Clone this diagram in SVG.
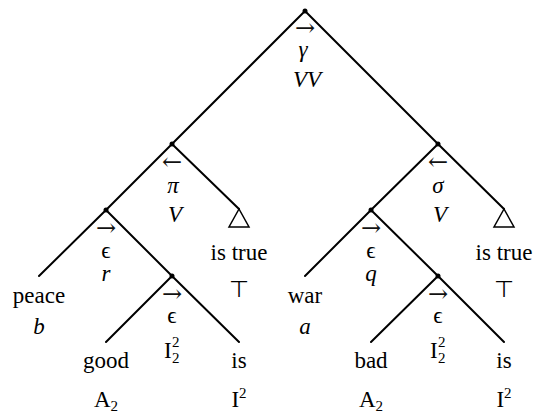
<svg xmlns="http://www.w3.org/2000/svg" width="538" height="416" viewBox="0 0 538 416" font-family="'Liberation Serif', 'Times New Roman', serif" font-size="23">
<style>
text{fill:#000;text-anchor:middle}
.it{font-style:italic}
.ar{font-family:"DejaVu Serif",serif;font-size:24px;fill:#111}
.sc{font-size:15px}
.top{font-size:23px}
.edge{stroke:#000;stroke-width:2;fill:none;stroke-linecap:round}
.dot{fill:#000}
.tri{fill:none;stroke:#000;stroke-width:1.5}
</style>
<rect width="538" height="416" fill="#fff"/>
<g id="connectors">
<path class="edge" d="M305,11L172,144M305,11L438,144M172,144L106,210M172,144L239,209M106,210L39,276M106,210L172,276M172,276L106,342M172,276L239,342M438,144L371,210M438,144L504,209M371,210L305,276M371,210L438,276M438,276L371,342M438,276L504,342"/>
</g>
<g id="root">
<circle class="dot" cx="305" cy="11" r="2.5"/>
<text class="ar" x="305" y="36">→</text>
<text class="it" x="303" y="57">γ</text>
<text class="it" x="307" y="87">VV</text>
</g>
<g id="pi">
<circle class="dot" cx="172" cy="144" r="2.5"/>
<text class="ar" x="172" y="170">←</text>
<text class="it" x="173" y="193">π</text>
<text class="it" x="175" y="222">V</text>
</g>
<g id="sigma">
<circle class="dot" cx="438" cy="144" r="2.5"/>
<text class="ar" x="438" y="170">←</text>
<text class="it" x="438" y="193">σ</text>
<text class="it" x="440" y="222">V</text>
</g>
<g id="eps-r">
<circle class="dot" cx="106" cy="210" r="2.5"/>
<text class="ar" x="106" y="236">→</text>
<text x="106" y="258">ϵ</text>
<text class="it" x="106" y="281">r</text>
</g>
<g id="eps-q">
<circle class="dot" cx="371" cy="210" r="2.5"/>
<text class="ar" x="371" y="236">→</text>
<text x="371" y="258">ϵ</text>
<text class="it" x="371" y="281">q</text>
</g>
<g id="eps-left">
<circle class="dot" cx="172" cy="276" r="2.5"/>
<text class="ar" x="172" y="302">→</text>
<text x="172" y="323">ϵ</text>
<text x="164" y="358" style="text-anchor:start">I</text>
<text class="sc" x="172" y="347" style="text-anchor:start">2</text>
<text class="sc" x="172" y="363" style="text-anchor:start">2</text>
</g>
<g id="eps-right">
<circle class="dot" cx="438" cy="276" r="2.5"/>
<text class="ar" x="438" y="302">→</text>
<text x="438" y="323">ϵ</text>
<text x="430" y="358" style="text-anchor:start">I</text>
<text class="sc" x="438" y="347" style="text-anchor:start">2</text>
<text class="sc" x="438" y="363" style="text-anchor:start">2</text>
</g>
<g id="is-true-left">
<path class="tri" d="M239,209L229,227H249Z"/>
<text x="239" y="260">is true</text>
<text class="top" x="239" y="297">⊤</text>
</g>
<g id="is-true-right">
<path class="tri" d="M504,209L494,227H514Z"/>
<text x="504" y="260">is true</text>
<text class="top" x="504" y="297">⊤</text>
</g>
<g id="peace">
<text x="39" y="303">peace</text>
<text class="it" x="39" y="334">b</text>
</g>
<g id="war">
<text x="305" y="303">war</text>
<text class="it" x="305" y="334">a</text>
</g>
<g id="good">
<text x="106" y="368">good</text>
<text x="106" y="407">A<tspan class="sc" dy="4">2</tspan></text>
</g>
<g id="bad">
<text x="371" y="368">bad</text>
<text x="371" y="407">A<tspan class="sc" dy="4">2</tspan></text>
</g>
<g id="is-left">
<text x="239" y="368">is</text>
<text x="239" y="407">I<tspan class="sc" dy="-9">2</tspan></text>
</g>
<g id="is-right">
<text x="504" y="368">is</text>
<text x="504" y="407">I<tspan class="sc" dy="-9">2</tspan></text>
</g>
</svg>
